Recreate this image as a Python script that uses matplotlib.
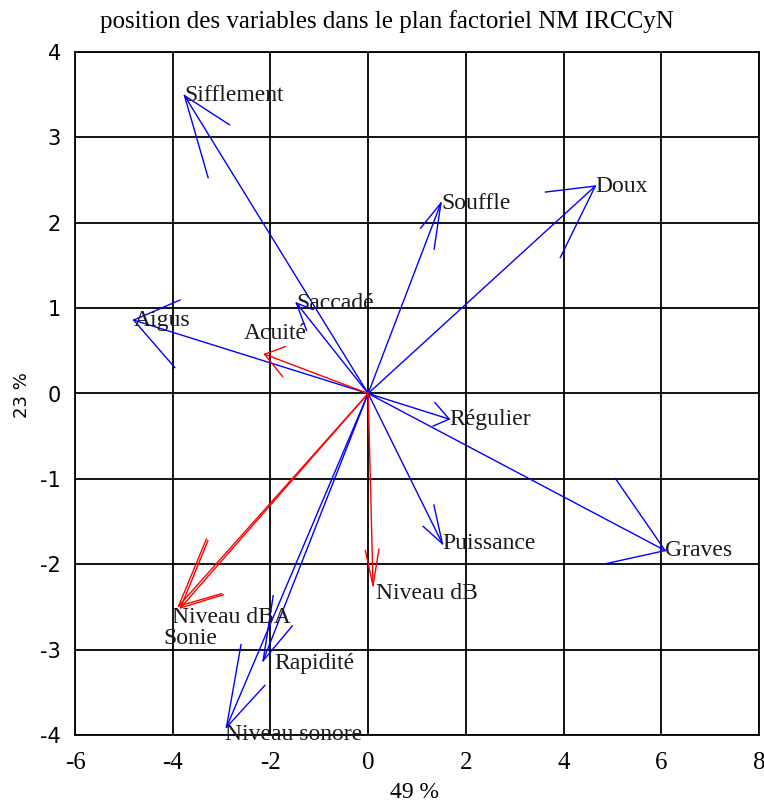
"""Cercle des corrélations : position des variables dans le plan factoriel NM IRCCyN."""

import numpy as np
import matplotlib
matplotlib.use("Agg")
import matplotlib.pyplot as plt

# coordonnées des variables (axe 1 = 49 %, axe 2 = 23 %)
blue_names = ["Sifflement", "Souffle", "Doux", "Aigus", "Saccadé", "Régulier",
              "Puissance", "Graves", "Rapidité", "Niveau sonore"]
blue_x = [-3.76, 1.49, 4.65, -4.80, -1.47, 1.66, 1.52, 6.08, -2.15, -2.90]
blue_y = [3.49, 2.23, 2.43, 0.86, 1.06, -0.30, -1.76, -1.84, -3.13, -3.91]

red_names = ["Acuité", "Niveau dBA", "Sonie", "Niveau dB"]
red_x = [-2.12, -3.88, -3.84, 0.10]
red_y = [0.46, -2.49, -2.51, -2.25]

x_ticks = [-6, -4, -2, 0, 2, 4, 6, 8]
y_ticks = [-4, -3, -2, -1, 0, 1, 2, 3, 4]

# décalage des étiquettes (points) quand elles ne sont pas collées à la pointe
label_offset = {
    "Acuité": (-15, 15),
    "Niveau dBA": (-5, -8),
    "Sonie": (-12, -22),
    "Niveau dB": (2, -6),
    "Rapidité": (8, -2),
    "Niveau sonore": (-1, -5),
}

SERIF = "Liberation Serif"


def arrow_head(x, y, k=1.15, frac=0.2, angle=21):
    """Branches de la pointe, calculées dans un repère où x est dilaté de k."""
    u, v = x * k, y
    length = np.hypot(u, v)
    bu, bv = -u / length, -v / length
    arms = []
    for s in (1, -1):
        a = np.radians(s * angle)
        ru = bu * np.cos(a) - bv * np.sin(a)
        rv = bu * np.sin(a) + bv * np.cos(a)
        arms.append(((u + frac * length * ru) / k, v + frac * length * rv))
    return arms


def draw_arrows(ax, names, xs, ys, color):
    for name, x, y in zip(names, xs, ys):
        ax.plot([0, x], [0, y], color=color, lw=1.0, zorder=3)
        (x1, y1), (x2, y2) = arrow_head(x, y)
        ax.plot([x1, x, x2], [y1, y, y2], color=color, lw=1.0, zorder=3)
        dx, dy = label_offset.get(name, (0, 0))
        ax.annotate(name, (x, y), xytext=(dx, dy), textcoords="offset points",
                    ha="left", va="center", fontsize=17, family=SERIF,
                    color="#1a1a1a", zorder=4)


def main() -> None:
    fig = plt.figure(figsize=(7.64, 8.05), dpi=100)
    ax = fig.add_axes([75 / 764, 1 - 735 / 805, (759 - 75) / 764, (735 - 52) / 805])

    draw_arrows(ax, blue_names, blue_x, blue_y, "#0000ff")
    draw_arrows(ax, red_names, red_x, red_y, "#ff0000")

    ax.set_xlim(-6, 8)
    ax.set_ylim(-4, 4)
    ax.set_xticks(x_ticks)
    ax.set_yticks(y_ticks)
    ax.set_xticklabels([str(t) for t in x_ticks], family=SERIF, fontsize=18)
    ax.set_yticklabels([str(t) for t in y_ticks], family="DejaVu Sans", fontsize=15)
    ax.grid(True, color="black", lw=1.3, zorder=1)
    ax.set_axisbelow(True)
    for spine in ax.spines.values():
        spine.set_linewidth(1.3)
    ax.tick_params(axis="x", length=0, pad=12)
    ax.tick_params(axis="y", length=0, pad=10)

    fig.text(414 / 764, 1 - 792 / 805, "49 %", ha="center", va="center",
             family=SERIF, fontsize=17)
    fig.text(22 / 764, 1 - 395 / 805, "23 %", ha="center", va="center",
             rotation=90, family="DejaVu Sans", fontsize=13)
    fig.text(387 / 764, 1 - 22 / 805,
             "position des variables dans le plan factoriel NM IRCCyN",
             ha="center", va="center", family=SERIF, fontsize=18)

    fig.savefig("out.png", dpi=100)


if __name__ == "__main__":
    main()
